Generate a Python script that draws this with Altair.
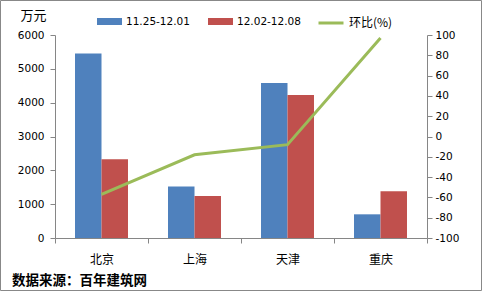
import altair as alt
import pandas as pd

cities = ["北京", "上海", "天津", "重庆"]
week1 = [5450, 1520, 4580, 700]
week2 = [2330, 1240, 4230, 1380]
ratio = [-57, -18, -8, 97]
series_names = ["11.25-12.01", "12.02-12.08"]
line_name = "环比(%)"
left_ticks = [0, 1000, 2000, 3000, 4000, 5000, 6000]
right_ticks = [-100, -80, -60, -40, -20, 0, 20, 40, 60, 80, 100]
unit_label = "万元"
footer = "数据来源：百年建筑网"

rows = []
for c, a, b in zip(cities, week1, week2):
    rows.append({"city": c, "series": series_names[0], "value": a})
    rows.append({"city": c, "series": series_names[1], "value": b})
bar_df = pd.DataFrame(rows)
line_df = pd.DataFrame({"city": cities, "ratio": ratio, "name": [line_name] * len(cities)})

NUM_FONT = "DejaVu Sans"
CJK_FONT = "Noto Sans CJK SC"
AXIS_COLOR = "#868686"

xscale = alt.Scale(domain=cities, paddingInner=0, paddingOuter=0)
xaxis = alt.Axis(title=None, labelAngle=0, tickBand="extent", domainColor=AXIS_COLOR,
                 tickColor=AXIS_COLOR, tickSize=5, labelFont=CJK_FONT, labelFontSize=12,
                 labelColor="#000", labelPadding=11, grid=False)

bars = alt.Chart(bar_df).mark_bar().encode(
    x=alt.X("city:N", sort=cities, scale=xscale, axis=xaxis),
    xOffset=alt.XOffset("series:N", sort=series_names,
                        scale=alt.Scale(paddingOuter=0.755, paddingInner=0)),
    y=alt.Y("value:Q", scale=alt.Scale(domain=[0, 6000], nice=False),
            axis=alt.Axis(values=left_ticks, title=unit_label, titleAngle=0, titleX=-22, titleY=-13,
                          titleFont=CJK_FONT, titleFontSize=13, titleFontWeight="normal",
                          titleColor="#000", titleAlign="center", labelExpr="'' + datum.value",
                          domainColor=AXIS_COLOR, tickColor=AXIS_COLOR, tickSize=5,
                          labelFont=NUM_FONT, labelFontSize=10.5, labelColor="#000",
                          labelPadding=6, grid=False)),
    color=alt.Color("series:N", sort=series_names,
                    scale=alt.Scale(domain=series_names, range=["#4F81BD", "#C0504D"]),
                    legend=alt.Legend(title=None, orient="none", direction="horizontal",
                                      legendX=42, legendY=-26,
                                      symbolType="M-1,-0.28H1V0.28H-1Z", symbolSize=625,
                                      symbolStrokeWidth=0, labelFont=NUM_FONT, labelFontSize=10.5,
                                      labelColor="#000", labelOffset=4, columnPadding=18)),
)

line = alt.Chart(line_df).mark_line(strokeWidth=3).encode(
    x=alt.X("city:N", sort=cities, scale=xscale, axis=xaxis),
    y=alt.Y("ratio:Q", scale=alt.Scale(domain=[-100, 100], nice=False),
            axis=alt.Axis(orient="right", values=right_ticks, title=None,
                          labelExpr="'' + datum.value",
                          domainColor=AXIS_COLOR, tickColor=AXIS_COLOR, tickSize=5,
                          labelFont=NUM_FONT, labelFontSize=10.5, labelColor="#000",
                          labelPadding=3, grid=False)),
    stroke=alt.Stroke("name:N", scale=alt.Scale(domain=[line_name], range=["#9BBB59"]),
                      legend=alt.Legend(title=None, orient="none", legendX=262, legendY=-26,
                                        symbolType="stroke", symbolSize=625, symbolStrokeWidth=3,
                                        labelFont=CJK_FONT, labelFontSize=12, labelColor="#000",
                                        labelOffset=4)),
)

foot = alt.Chart(pd.DataFrame({"t": [footer]})).mark_text(
    align="left", baseline="middle", font=CJK_FONT, fontSize=13.5, fontWeight="bold", color="#000"
).encode(x=alt.value(-43), y=alt.value(246), text="t:N")

border = alt.Chart(pd.DataFrame({"k": [0]})).mark_rect(
    fill="transparent", stroke="#888888", strokeWidth=1
).encode(x=alt.value(-54.5), x2=alt.value(426.5), y=alt.value(-34.5), y2=alt.value(255.5))

chart = alt.layer(bars, line, foot, border).resolve_scale(
    y="independent", color="independent"
).properties(
    width=372, height=203,
    autosize=alt.AutoSizeParams(type="none"),
    padding={"left": 55, "top": 35, "right": 55, "bottom": 53},
    background="white",
).configure_view(stroke="transparent")

chart.save("out.html", embed_options={"renderer": "svg", "actions": False})
